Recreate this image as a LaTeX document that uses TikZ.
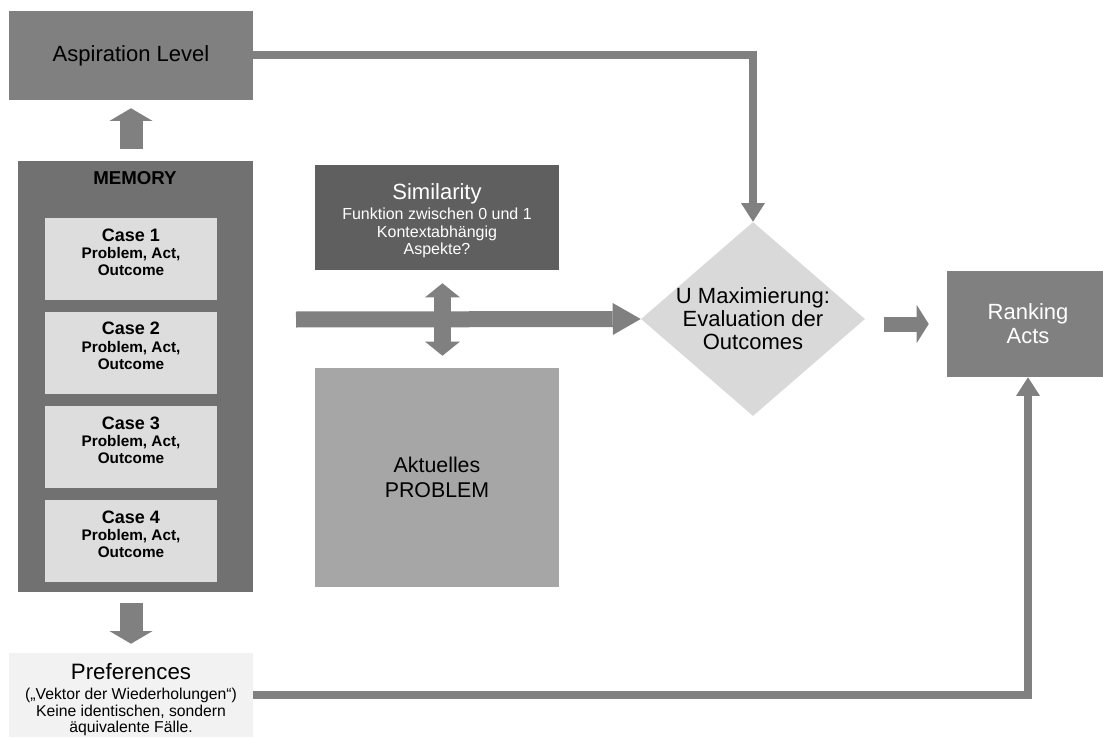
\documentclass[tikz,border=0pt]{standalone}
\usepackage{fontspec}
\setmainfont{Liberation Sans}
\usetikzlibrary{arrows.meta,shapes.geometric}

\definecolor{linkgray}{HTML}{808080}
\definecolor{memgray}{HTML}{717171}
\definecolor{simgray}{HTML}{5F5F5F}
\definecolor{probgray}{HTML}{A6A6A6}
\definecolor{diagray}{HTML}{D9D9D9}
\definecolor{casegray}{HTML}{DDDDDD}
\definecolor{prefgray}{HTML}{F2F2F2}

\newcommand{\bigfont}{\fontsize{16.5pt}{18pt}\selectfont}
\newcommand{\smallfont}{\fontsize{12pt}{13.2pt}\selectfont}

\begin{document}
\begin{tikzpicture}[x=0.75pt,y=-0.75pt,
  box/.style={rectangle, draw=none, inner sep=0pt, align=center, text=black},
  casebox/.style={box, fill=casegray, minimum width=129pt, minimum height=61.5pt},
  caselbl/.style={align=center, yshift=5pt, font=\fontsize{11.5pt}{13pt}\selectfont\bfseries},
  preftitle/.style={yshift=17.25pt, font=\fontsize{16.7pt}{18pt}\selectfont},
  prefsub/.style={align=center, yshift=-12.75pt,
    font=\fontsize{11.8pt}{12.2pt}\selectfont},
  simtext/.style={align=center, text=white, yshift=-2.6pt, font=\smallfont},
  link/.style={draw=linkgray, line width=6pt,
    -{Triangle[width=18pt,length=14pt,line width=0pt]}},
  blockv/.style={draw=linkgray, line width=17.25pt,
    -{Triangle[width=32.25pt,length=9.5pt,line width=0pt]}},
  mainarrow/.style={draw=linkgray, line width=12pt,
    -{Triangle[width=24pt,length=21pt,line width=0pt]}},
  twoway/.style={draw=linkgray, line width=12.75pt,
    {Triangle[width=26pt,length=10.5pt,line width=0pt]}-{Triangle[width=26pt,length=10.5pt,line width=0pt]}},
  rankarrow/.style={draw=linkgray, line width=11.25pt,
    -{Triangle[width=28.5pt,length=9pt,line width=0pt]}}
]
\useasboundingbox (0,0) rectangle (1103,738);

% boxes
\node[box, fill=linkgray, minimum width=183pt, minimum height=66.75pt, font=\bigfont]
  (asp) at (131,55.5) {Aspiration Level};

\node[box, fill=memgray, minimum width=176.25pt, minimum height=323.25pt]
  (mem) at (135.5,376.5) {};
\node[font=\fontsize{14pt}{16pt}\selectfont\bfseries, inner sep=0pt] (memlbl) at (135,178) {MEMORY};

\node[casebox, label={[caselbl]center:{{\fontsize{13.5pt}{13pt}\selectfont Case 1}\\Problem, Act,\\Outcome}}] (c1) at (131,259) {};
\node[casebox, label={[caselbl]center:{{\fontsize{13.5pt}{13pt}\selectfont Case 2}\\Problem, Act,\\Outcome}}] (c2) at (131,352.5) {};
\node[casebox, label={[caselbl]center:{{\fontsize{13.5pt}{13pt}\selectfont Case 3}\\Problem, Act,\\Outcome}}] (c3) at (131,447) {};
\node[casebox, label={[caselbl]center:{{\fontsize{13.5pt}{13pt}\selectfont Case 4}\\Problem, Act,\\Outcome}}] (c4) at (131,541) {};

\node[box, fill=prefgray, minimum width=183pt, minimum height=63pt,
  label={[preftitle]center:Preferences},
  label={[prefsub]center:{(„Vektor der Wiederholungen“)\\Keine identischen, sondern\\äquivalente Fälle.}}]
  (pref) at (131,695) {};

\node[box, fill=simgray, minimum width=183pt, minimum height=78.75pt,
  label={[simtext]center:{{\fontsize{16.5pt}{16pt}\selectfont Similarity}\\[1.5pt]Funktion zwischen 0 und 1\\Kontextabhängig\\Aspekte?}}]
  (sim) at (437,217.5) {};

\node[box, fill=probgray, minimum width=183pt, minimum height=164.25pt,
  font=\fontsize{16pt}{19pt}\selectfont]
  (prob) at (437,477.5) {Aktuelles\\PROBLEM};

\node[diamond, fill=diagray, draw=none, inner sep=0pt,
  minimum width=168pt, minimum height=145.5pt] (dia) at (753,319) {};
\node[align=center, font=\fontsize{16.5pt}{17.3pt}\selectfont, inner sep=0pt]
  (dialbl) at (dia) {U Maximierung:\\Evaluation der\\Outcomes};

\node[box, fill=linkgray, text=white, minimum width=121.5pt, minimum height=79.5pt,
  font=\fontsize{16.5pt}{17.8pt}\selectfont]
  (rank) at (1028,324) {Ranking\\Acts};

% connectors
\coordinate (feed) at (296,319.5);

\draw[link] (asp.east) -| (dia.north);
\draw[link] (pref.east) -| (rank.south);

\draw[blockv, shorten <=9pt, shorten >=6pt] (asp.south |- mem.north) -- (asp.south);
\draw[blockv, shorten <=8.25pt, shorten >=6.75pt] (pref.north |- mem.south) -- (pref.north);

\draw[mainarrow] (feed) -- (dia.west);
\draw[twoway, shorten <=9.75pt, shorten >=9pt] ([xshift=4.1pt]sim.south) -- ([xshift=4.1pt]prob.north);
\draw[rankarrow, shorten <=14.25pt, shorten >=13.5pt] (dia.east |- rank.west) -- (rank.west);
\end{tikzpicture}
\end{document}
